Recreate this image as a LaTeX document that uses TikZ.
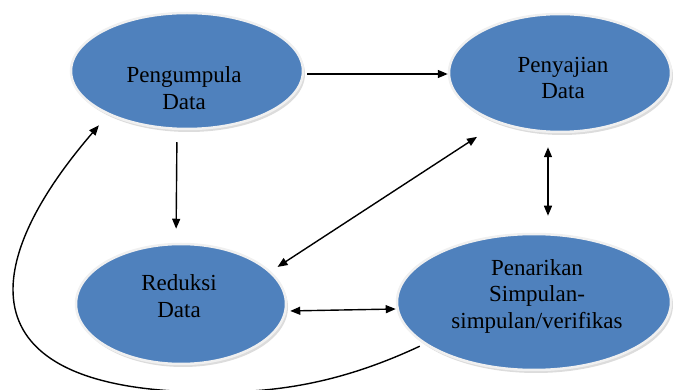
\documentclass[tikz,border=0pt]{standalone}
\usepackage{fontspec}
\setmainfont{Liberation Serif}
\usetikzlibrary{shapes.geometric,arrows.meta,shadows}
\definecolor{biru}{RGB}{79,129,189}

\begin{document}
\begin{tikzpicture}[x=1pt, y=1pt,
    proses/.style={ellipse, fill=biru, draw=gray!12, line width=2.5pt, inner sep=0pt,
        drop shadow={shadow xshift=2pt, shadow yshift=-3pt, fill=gray!55}},
    teks/.style={align=center, inner sep=0pt, font=\fontsize{23}{26.5}\selectfont},
    panah/.style={line width=1.4pt, -{Triangle[length=10pt,width=8pt]}},
    panahdua/.style={line width=1.4pt, {Triangle[length=10pt,width=8pt]}-{Triangle[length=10pt,width=8pt]}}]
    \useasboundingbox (0,0) rectangle (673,-390);

    % Ellipses for the four stages
    \node[proses, minimum width=232, minimum height=116] (pengumpulan) at (187,-71) {};
    \node[proses, minimum width=222, minimum height=118] (penyajian) at (560,-73) {};
    \node[proses, minimum width=210, minimum height=120] (reduksi) at (181,-304) {};
    \node[proses, minimum width=274, minimum height=136] (penarikan) at (534,-302) {};

    % Labels of the stages
    \node[teks] (t-pengumpulan) at (184,-88) {Pengumpula\\Data};
    \node[teks] (t-penyajian) at (563,-78) {Penyajian\\Data};
    \node[teks] (t-reduksi) at (179,-296) {Reduksi\\Data};
    \node[teks] (t-penarikan) at (537,-296) {Penarikan\\Simpulan-\\simpulan/verifikas};

    % Straight connectors
    \draw[panah, shorten <=3pt] ([yshift=-3]pengumpulan.east) -- ([yshift=-1]penyajian.west);
    \draw[panah, shorten <=12pt, shorten >=14pt] ([xshift=-10]pengumpulan.south) -- ([xshift=-5]reduksi.north);
    \draw[panahdua, shorten <=14pt, shorten >=17pt] ([xshift=-12]penyajian.south) -- ([xshift=14]penarikan.north);
    \draw[panahdua, shorten <=25pt, shorten >=8pt] (penyajian.219) -- (reduksi.20);
    \draw[panahdua, shorten <=3pt] ([yshift=-7]reduksi.east) -- ([yshift=-7]penarikan.west);

    % Loop back from conclusion to data collection
    \draw[panah, shorten <=5pt, shorten >=14pt] (penarikan.201)
        .. controls +(205:80) and (290,-392) .. (220,-392)
        .. controls (-28,-395) and (-30,-275) .. (pengumpulan.209);

\end{tikzpicture}
\end{document}
